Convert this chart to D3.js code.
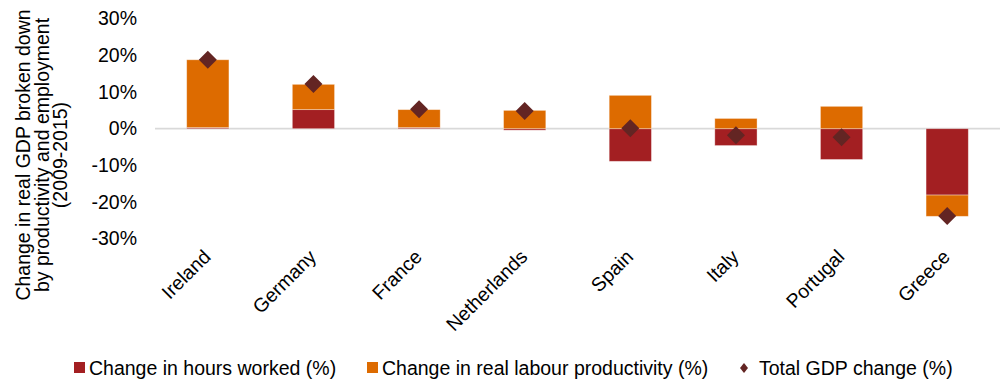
<!DOCTYPE html>
<html>
<head>
<meta charset="utf-8">
<script src="https://cdn.jsdelivr.net/npm/d3@7"></script>
<style>
  body { margin: 0; background: #fff; }
  text { font-family: "Liberation Sans", Arial, sans-serif; fill: #000; }
</style>
</head>
<body>
<svg id="chart" width="1005" height="379"></svg>
<script>
var countries = ["Ireland", "Germany", "France", "Netherlands", "Spain", "Italy", "Portugal", "Greece"];
var hoursWorked = [0.3, 5.2, 0.3, -0.4, -8.9, -4.6, -8.4, -18.1];
var productivity = [18.5, 6.9, 4.9, 5.0, 9.1, 2.8, 6.1, -5.8];
var totalGdp = [18.8, 12.2, 5.3, 4.8, 0.1, -1.8, -2.3, -23.8];
var yTicks = [-30, -20, -10, 0, 10, 20, 30];

var svg = d3.select("svg#chart");

var fontSize = 19.5;

var x = d3.scaleBand()
    .domain(countries)
    .range([155, 1000])
    .paddingInner(0.6)
    .paddingOuter(0.3);

var y = d3.scaleLinear()
    .domain([-30, 30])
    .range([238.7, 18.7]);

var rows = countries.map(function(c, i) {
  return {country: c, hours: hoursWorked[i], prod: productivity[i], total: totalGdp[i]};
});

var stack = d3.stack()
    .keys(["hours", "prod"])
    .offset(d3.stackOffsetDiverging);

var series = stack(rows);
var colors = {hours: "#a31f22", prod: "#dd6b00"};

// y axis labels, no line
var yAxis = svg.append("g")
    .attr("transform", "translate(137,0)")
    .call(d3.axisLeft(y).tickValues(yTicks).tickSize(0).tickPadding(0)
          .tickFormat(function(d) { return d + "%"; }));
yAxis.select(".domain").remove();
yAxis.selectAll("text")
    .style("font-size", fontSize + "px")
    .attr("font-family", null);

// zero line
svg.append("line")
    .attr("x1", 155).attr("x2", 1000)
    .attr("y1", y(0)).attr("y2", y(0))
    .attr("stroke", "#d9d9d9")
    .attr("stroke-width", 1.75);

svg.append("g").selectAll("g")
  .data(series)
  .enter().append("g")
    .attr("fill", function(d) { return colors[d.key]; })
  .selectAll("rect")
  .data(function(d) { return d; })
  .enter().append("rect")
    .attr("x", function(d) { return x(d.data.country); })
    .attr("width", x.bandwidth())
    .attr("y", function(d) { return y(Math.max(d[0], d[1])); })
    .attr("height", function(d) { return Math.abs(y(d[0]) - y(d[1])); })
    .attr("stroke", "#fff")
    .attr("stroke-opacity", 0.45)
    .attr("stroke-width", 0.8);

// total GDP diamonds
svg.append("g").selectAll("path")
  .data(rows)
  .enter().append("path")
    .attr("d", "M0,-9L9,0L0,9L-9,0Z")
    .attr("fill", "#632523")
    .attr("transform", function(d) {
      return "translate(" + (x(d.country) + x.bandwidth() / 2) + "," + y(d.total) + ")";
    });

// x labels
svg.append("g").selectAll("text")
  .data(countries)
  .enter().append("text")
    .attr("text-anchor", "end")
    .style("font-size", fontSize + "px")
    .attr("transform", function(d) {
      return "translate(" + (x(d) + x.bandwidth() / 2 + 4) + ",258) rotate(-45)";
    })
    .text(function(d) { return d; });

// y axis title
var title = svg.append("text")
    .attr("text-anchor", "middle")
    .style("font-size", fontSize + "px")
    .attr("transform", "translate(30,155) rotate(-90)");
title.selectAll("tspan")
  .data(["Change in real GDP broken down", "by productivity and employment", "(2009-2015)"])
  .enter().append("tspan")
    .attr("x", 0)
    .attr("dy", function(d, i) { return i === 0 ? 0 : 18.5; })
    .text(function(d) { return d; });

// legend
var legendItems = [
  {label: "Change in hours worked (%)", type: "square", color: colors.hours, x: 74},
  {label: "Change in real labour productivity (%)", type: "square", color: colors.prod, x: 367},
  {label: "Total GDP change (%)", type: "diamond", color: "#632523", x: 740}
];

var legend = svg.append("g").selectAll("g")
  .data(legendItems)
  .enter().append("g")
    .attr("transform", function(d) { return "translate(" + d.x + ",368)"; });

legend.filter(function(d) { return d.type === "square"; })
  .append("rect")
    .attr("x", 0).attr("y", -6)
    .attr("width", 11).attr("height", 11)
    .attr("fill", function(d) { return d.color; });

legend.filter(function(d) { return d.type === "diamond"; })
  .append("path")
    .attr("d", "M4,-5L8,0L4,5L0,0Z")
    .attr("fill", function(d) { return d.color; });

legend.append("text")
    .attr("x", function(d) { return d.type === "diamond" ? 19 : 15; })
    .attr("y", 7)
    .style("font-size", fontSize + "px")
    .text(function(d) { return d.label; });
</script>
</body>
</html>
